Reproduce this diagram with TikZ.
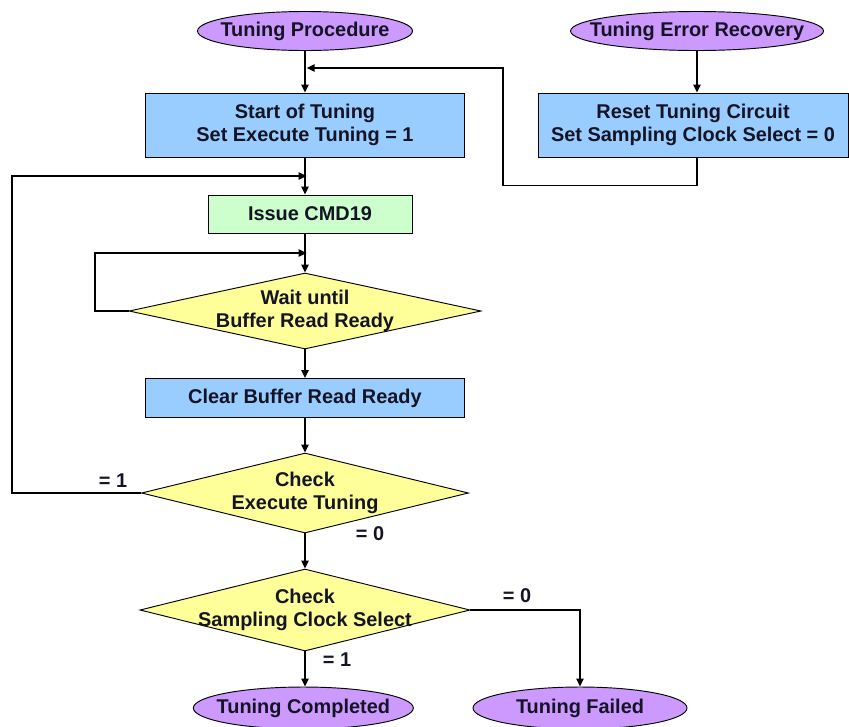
\documentclass[tikz,border=0pt]{standalone}
\usepackage{fontspec}
\setmainfont{Liberation Sans}
\usetikzlibrary{shapes.geometric,arrows.meta}
\definecolor{termfill}{RGB}{204,153,255}
\definecolor{procfill}{RGB}{153,204,255}
\definecolor{cmdfill}{RGB}{204,255,204}
\definecolor{decfill}{RGB}{255,255,153}
\definecolor{ink}{RGB}{20,20,36}
\begin{document}
\begin{tikzpicture}[>={Triangle[length=2.4mm,width=2.2mm]}, line width=1.2pt,
  every node/.style={font=\bfseries\fontsize{17}{20}\selectfont,align=center,text=ink,line width=.8pt},
  term node/.style={ellipse,draw,fill=termfill,inner xsep=-1cm,inner ysep=-.5cm,minimum height=1.17cm},
  proc node/.style={rectangle,draw,fill=procfill,inner sep=0pt},
  cmd node/.style={rectangle,draw,fill=cmdfill,inner sep=0pt,minimum width=6.12cm,minimum height=1.14cm},
  dec node/.style={diamond,draw,fill=decfill,inner xsep=-2cm,inner ysep=-1cm}]
\useasboundingbox (0,0) rectangle (25.47,-21.78);
\begin{scope}
\node [term node,minimum width=6.45cm](proc) at (9.15,-0.93) {Tuning Procedure};
\node [term node,minimum width=7.59cm](recov) at (20.91,-0.93) {Tuning Error Recovery};
\node [proc node,minimum width=9.57cm,minimum height=1.92cm](start) at (9.15,-3.75) {Start of Tuning\\Set Execute Tuning = 1};
\node [proc node,minimum width=9.3cm,minimum height=1.92cm](reset) at (20.79,-3.75) {Reset Tuning Circuit\\Set Sampling Clock Select = 0};
\node [cmd node](issue) at (9.3,-6.42) {Issue CMD19};
\node [dec node,minimum width=10.56cm,minimum height=2.28cm](wait) at (9.15,-9.33) {Wait until\\Buffer Read Ready};
\node [proc node,minimum width=9.57cm,minimum height=1.17cm](clear) at (9.15,-11.94) {Clear Buffer Read Ready};
\node [dec node,minimum width=9.81cm,minimum height=2.4cm](exec) at (9.15,-14.79) {Check\\Execute Tuning};
\node [dec node,minimum width=9.9cm,minimum height=2.46cm](sampl) at (9.15,-18.3) {Check\\Sampling Clock Select};
\node [term node,minimum width=6.6cm,minimum height=1.26cm](done) at (9.1,-21.24) {Tuning Completed};
\node [term node,minimum width=6.42cm,minimum height=1.26cm](failed) at (17.4,-21.24) {Tuning Failed};
\end{scope}
% branch labels
\node (exec1) at (3.39,-14.43) {= 1};
\node (exec0) at (11.1,-16.02) {= 0};
\node (sampl1) at (10.11,-19.8) {= 1};
\node (sampl0) at (15.51,-17.88) {= 0};
% where the loops join the main line
\coordinate (join1) at (9.2,-2.04);
\coordinate (join2) at (9.2,-5.28);
\coordinate (join3) at (9.2,-7.59);
\path[->]
    (proc) edge (start)
    (recov) edge (recov |- reset.north)
    (start) edge (start |- issue.north)
    (start |- issue.south) edge (wait)
    (wait) edge (clear)
    (clear) edge (exec)
    (exec) edge (sampl)
    (sampl) edge (sampl |- done.north)
    ;
\draw[->] (recov |- reset.south) -- ++(0,-.84) -| (15.09,-2.04) -- (join1);
\draw[->] (exec.west) -| (0.36,-5.28) -- (join2);
\draw[->] (wait.west) -| (2.85,-7.59) -- (join3);
\draw[->] (sampl.east) -| (failed.north);
\end{tikzpicture}
\end{document}
